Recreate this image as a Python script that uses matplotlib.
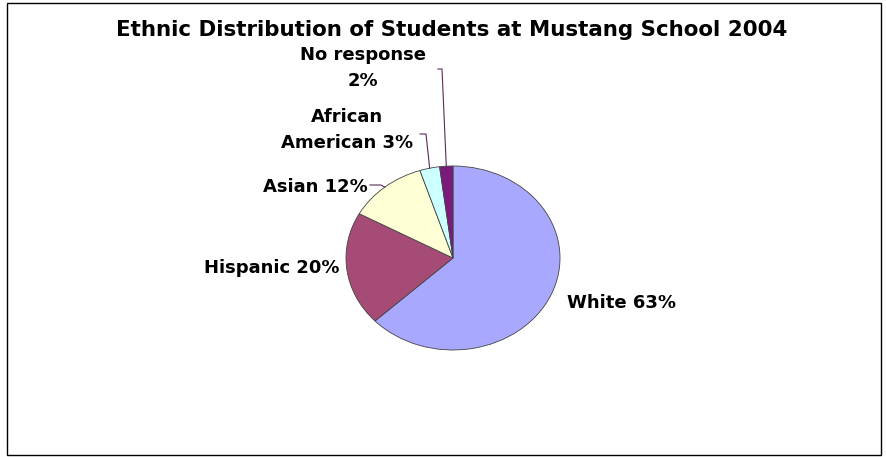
import matplotlib
matplotlib.use("Agg")
import matplotlib.pyplot as plt
from matplotlib.patches import Rectangle
import numpy as np

# data
groups = ["White", "Hispanic", "Asian", "African American", "No response"]
shares = [63, 20, 12, 3, 2]
label_texts = ["White 63%", "Hispanic 20%", "Asian 12%", "African\nAmerican 3%", "No response\n2%"]
colors = ["#A8A8FF", "#A64B75", "#FFFFD5", "#CCFFFF", "#7A1A7A"]

W, H = 887, 457
fig = plt.figure(figsize=(W / 100, H / 100), dpi=100)

# pie centre / radii in pixels (pie is drawn slightly squashed)
cx, cy, rx, ry = 453, 258, 107, 92
ax = fig.add_axes([(cx - rx) / W, (H - cy - ry) / H, 2 * rx / W, 2 * ry / H])

wedges, _ = ax.pie(shares, colors=colors, startangle=90, counterclock=False,
                   wedgeprops=dict(edgecolor="#444444", linewidth=0.6))
ax.set_aspect("auto")
ax.set_xlim(-1, 1)
ax.set_ylim(-1, 1)


def px(x, y):
    # pixel position -> pie data coords
    return (x - cx) / rx, (cy - y) / ry


font = dict(family="DejaVu Sans", fontweight="bold", fontsize=13)

# label anchors in pixels: (x, y, ha)
label_pos = [(567, 303, "left"), (339, 268, "right"), (368, 187, "right"),
             (347, 130, "center"), (363, 68, "center")]
for txt, (lx, ly, ha) in zip(label_texts, label_pos):
    x, y = px(lx, ly)
    ax.text(x, y, txt, ha=ha, va="center", linespacing=1.5, clip_on=False, **font)

# leader lines (elbow points in pixels) for the small slices
elbows = {2: [(381, 185), (370, 185)], 3: [(426, 134), (420, 134)], 4: [(442, 69), (438, 69)]}
for i, pts in elbows.items():
    w = wedges[i]
    mid = np.deg2rad((w.theta1 + w.theta2) / 2)
    xs = [np.cos(mid)] + [px(*p)[0] for p in pts]
    ys = [np.sin(mid)] + [px(*p)[1] for p in pts]
    ax.plot(xs, ys, color="#5A2A5A", linewidth=0.8, clip_on=False)

fig.text(452 / W, 1 - 30 / H, "Ethnic Distribution of Students at Mustang School 2004",
         ha="center", va="center", family="DejaVu Sans", fontweight="bold", fontsize=15.4)

# outer frame
fig.patches.append(Rectangle((7 / W, 2 / H), 874 / W, 452 / H, transform=fig.transFigure,
                             fill=False, edgecolor="black", linewidth=1))

fig.savefig("out.png", dpi=100)
